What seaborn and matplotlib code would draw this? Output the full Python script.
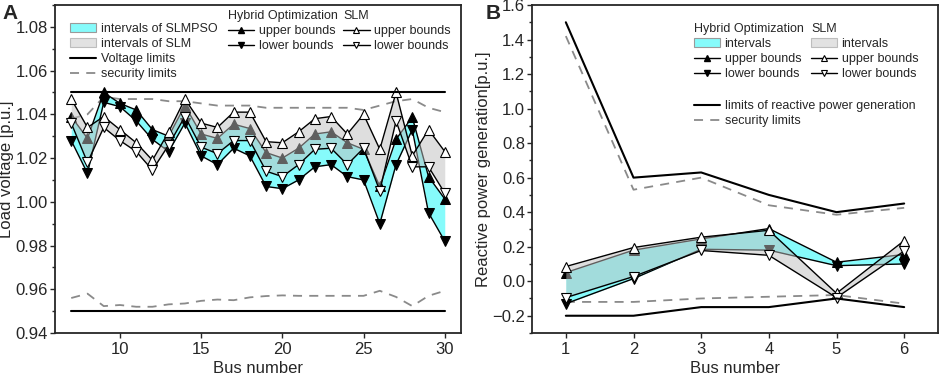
import numpy as np
import matplotlib
matplotlib.use('Agg')
import matplotlib.pyplot as plt
import seaborn as sns
from matplotlib.lines import Line2D
from matplotlib.patches import Patch
from matplotlib.ticker import MultipleLocator

# Panel A: load voltage intervals, buses 7..30
bus_a = list(range(7, 31))
slm_up_a = [1.047, 1.034, 1.039, 1.033, 1.027, 1.019, 1.032, 1.047, 1.036, 1.034, 1.041, 1.041,
            1.0275, 1.027, 1.032, 1.038, 1.039, 1.031, 1.040, 1.024, 1.050, 1.021, 1.033, 1.023]
slm_lo_a = [1.036, 1.018, 1.034, 1.028, 1.023, 1.0145, 1.026, 1.039, 1.025, 1.022, 1.028, 1.028,
            1.014, 1.0115, 1.017, 1.024, 1.0245, 1.017, 1.0245, 1.005, 1.037, 1.016, 1.016, 1.004]
hyb_up_a = [1.039, 1.029, 1.050, 1.045, 1.042, 1.033, 1.030, 1.044, 1.031, 1.029, 1.0355, 1.0335,
            1.0225, 1.020, 1.0245, 1.031, 1.032, 1.027, 1.024, 1.007, 1.0286, 1.0387, 1.0115, 1.0013]
hyb_lo_a = [1.028, 1.013, 1.0455, 1.0435, 1.037, 1.0285, 1.023, 1.036, 1.021, 1.017, 1.0245, 1.021,
            1.007, 1.006, 1.010, 1.016, 1.017, 1.0115, 1.010, 0.990, 1.017, 1.033, 0.995, 0.982]
vlim_up = [1.05] * len(bus_a)
vlim_lo = [0.95] * len(bus_a)
sec_up_a = [1.038, 1.040, 1.048, 1.047, 1.047, 1.047, 1.046, 1.046, 1.045, 1.044, 1.044, 1.044,
            1.043, 1.043, 1.043, 1.043, 1.043, 1.043, 1.042, 1.044, 1.046, 1.047, 1.043, 1.041]
sec_lo_a = [0.956, 0.958, 0.9523, 0.9528, 0.952, 0.952, 0.9531, 0.9535, 0.9547, 0.9553, 0.955, 0.9563,
            0.9569, 0.9572, 0.957, 0.957, 0.957, 0.957, 0.957, 0.9593, 0.9565, 0.9523, 0.957, 0.9593]

# Panel B: reactive power generation, generators 1..6
bus_b = [1, 2, 3, 4, 5, 6]
qlim_up = [1.50, 0.60, 0.63, 0.50, 0.40, 0.45]
qlim_lo = [-0.20, -0.20, -0.15, -0.15, -0.10, -0.15]
sec_up_b = [1.42, 0.53, 0.60, 0.44, 0.385, 0.425]
sec_lo_b = [-0.12, -0.12, -0.10, -0.09, -0.08, -0.13]
hyb_up_b = [0.05, 0.18, 0.245, 0.305, 0.11, 0.155]
hyb_lo_b = [-0.13, 0.015, 0.185, 0.18, 0.09, 0.10]
slm_up_b = [0.085, 0.195, 0.255, 0.295, -0.07, 0.235]
slm_lo_b = [-0.095, 0.027, 0.178, 0.15, -0.095, 0.175]

CYAN = '#86fbfb'
GREY = '#bfbfbf'
SEC = '#8a8a8a'

sns.set_style('ticks')
plt.rcParams['font.family'] = ['Liberation Sans', 'DejaVu Sans']

fig = plt.figure(figsize=(9.41, 3.8), dpi=100)
axA = fig.add_axes([55 / 941, 47 / 380, 406 / 941, 328 / 380])
axB = fig.add_axes([532 / 941, 47 / 380, 406 / 941, 328 / 380])


def draw_intervals(ax, x, hu, hl, su, sl, ms):
    ax.fill_between(x, hu, hl, color=CYAN, lw=0, zorder=1)
    sns.lineplot(x=x, y=hu, ax=ax, color='k', lw=1, marker='^', markersize=ms,
                 markerfacecolor='k', markeredgecolor='k', zorder=2)
    sns.lineplot(x=x, y=hl, ax=ax, color='k', lw=1, marker='v', markersize=ms,
                 markerfacecolor='k', markeredgecolor='k', zorder=2)
    ax.fill_between(x, su, sl, color=GREY, alpha=0.5, lw=0, zorder=3)
    sns.lineplot(x=x, y=su, ax=ax, color='k', lw=1, marker='^', markersize=ms,
                 markerfacecolor='white', markeredgecolor='k', markeredgewidth=0.8, zorder=4)
    sns.lineplot(x=x, y=sl, ax=ax, color='k', lw=1, marker='v', markersize=ms,
                 markerfacecolor='white', markeredgecolor='k', markeredgewidth=0.8, zorder=4)


# ---- Panel A
draw_intervals(axA, bus_a, hyb_up_a, hyb_lo_a, slm_up_a, slm_lo_a, 6.5)
for lim in (vlim_up, vlim_lo):
    sns.lineplot(x=bus_a, y=lim, ax=axA, color='k', lw=1.5, zorder=5)
for sec in (sec_up_a, sec_lo_a):
    axA.plot(bus_a, sec, color=SEC, lw=1.3, dashes=(5, 4), zorder=1.5)

axA.set_xlim(6, 31)
axA.set_ylim(0.94, 1.09)
axA.xaxis.set_major_locator(MultipleLocator(5))
axA.yaxis.set_major_locator(MultipleLocator(0.02))
axA.yaxis.set_minor_locator(MultipleLocator(0.01))
axA.set_xlabel('Bus number', fontsize=12, labelpad=3)
axA.set_ylabel('Load voltage [p.u.]', fontsize=12, labelpad=1)

h_cyan = Patch(facecolor=CYAN, edgecolor='#9a9a9a', lw=0.8)
h_grey = Patch(facecolor='#e2e2e2', edgecolor='#bdbdbd', lw=0.8)
h_lim = Line2D([], [], color='k', lw=1.5)
h_sec = Line2D([], [], color=SEC, lw=1.3, dashes=(5, 4))
h_hu = Line2D([], [], color='k', lw=1, marker='^', ms=5, mfc='k', mec='k')
h_hl = Line2D([], [], color='k', lw=1, marker='v', ms=5, mfc='k', mec='k')
h_su = Line2D([], [], color='k', lw=1, marker='^', ms=5, mfc='white', mec='k', mew=0.8)
h_sl = Line2D([], [], color='k', lw=1, marker='v', ms=5, mfc='white', mec='k', mew=0.8)

leg_kw = dict(loc='upper left', frameon=False, fontsize=9, title_fontsize=9, borderpad=0,
              borderaxespad=0, handlelength=2.1, handletextpad=0.35, labelspacing=0.25,
              alignment='left')

l1 = axA.legend([h_cyan, h_grey, h_lim, h_sec],
                ['intervals of SLMPSO', 'intervals of SLM', 'Voltage limits', 'security limits'],
                bbox_to_anchor=(0.037, 0.945), **leg_kw)
axA.add_artist(l1)
l2 = axA.legend([h_hu, h_hl], ['upper bounds', 'lower bounds'], title='Hybrid Optimization',
                bbox_to_anchor=(0.426, 0.985), **leg_kw)
axA.add_artist(l2)
axA.legend([h_su, h_sl], ['upper bounds', 'lower bounds'], title='SLM',
           bbox_to_anchor=(0.71, 0.985), **leg_kw)

# ---- Panel B
draw_intervals(axB, bus_b, hyb_up_b, hyb_lo_b, slm_up_b, slm_lo_b, 6.5)
for lim in (qlim_up, qlim_lo):
    sns.lineplot(x=bus_b, y=lim, ax=axB, color='k', lw=1.5, zorder=5)
for sec in (sec_up_b, sec_lo_b):
    axB.plot(bus_b, sec, color=SEC, lw=1.3, dashes=(5, 4), zorder=1.5)

axB.set_xlim(0.5, 6.5)
axB.set_ylim(-0.3, 1.6)
axB.xaxis.set_major_locator(MultipleLocator(1))
axB.yaxis.set_major_locator(MultipleLocator(0.2))
axB.yaxis.set_minor_locator(MultipleLocator(0.1))
axB.set_xlabel('Bus number', fontsize=12, labelpad=3)
axB.set_ylabel('Reactive power generation[p.u.]', fontsize=12, labelpad=1)

l3 = axB.legend([h_cyan, h_hu, h_hl], ['intervals', 'upper bounds', 'lower bounds'],
                title='Hybrid Optimization', bbox_to_anchor=(0.399, 0.945), **leg_kw)
axB.add_artist(l3)
l4 = axB.legend([h_grey, h_su, h_sl], ['intervals', 'upper bounds', 'lower bounds'],
                title='SLM', bbox_to_anchor=(0.687, 0.945), **leg_kw)
axB.add_artist(l4)
axB.legend([h_lim, h_sec], ['limits of reactive power generation', 'security limits'],
           bbox_to_anchor=(0.399, 0.71), **leg_kw)

for ax in (axA, axB):
    for s in ax.spines.values():
        s.set_linewidth(1.3)
        s.set_visible(True)
    ax.tick_params(which='major', direction='out', length=3.5, width=1, pad=1.5, labelsize=12)
    ax.tick_params(which='minor', direction='out', length=2.5, width=1)
    ax.tick_params(axis='x', which='minor', length=0)
    ax.tick_params(axis='x', which='major', pad=3)

fig.text(0.003, 0.99, 'A', fontsize=15, fontweight='bold', va='top')
fig.text(0.516, 0.99, 'B', fontsize=15, fontweight='bold', va='top')

fig.savefig('out.png', dpi=100)
